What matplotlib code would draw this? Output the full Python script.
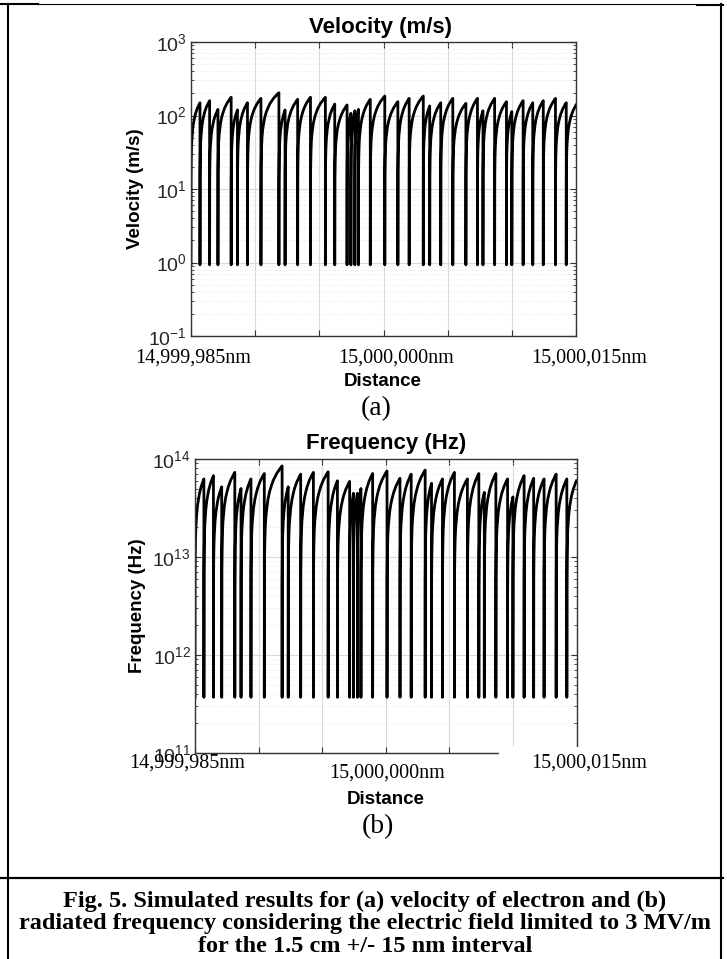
import numpy as np
import matplotlib
matplotlib.use("Agg")
import matplotlib.pyplot as plt
from matplotlib.lines import Line2D
from matplotlib.patches import Rectangle
from matplotlib.ticker import LogLocator, NullFormatter, MultipleLocator

# distance offsets (nm, relative to 15,000,000 nm) where the electron drops back
drop_positions = [-14.3, -13.55, -12.9, -11.87, -11.38, -10.6, -9.55, -8.15, -7.67, -6.69,
                  -5.69, -4.53, -3.8, -2.84, -2.54, -2.23, -1.95, -1.03, 0.1, 1.12,
                  2.0, 3.1, 3.6, 4.46, 5.4, 6.42, 7.32, 7.75, 8.66, 9.58,
                  10.0, 10.88, 11.63, 12.45, 13.4, 14.24]
x_start = -15.0
x_end = 15.0

# peak of each tooth (last value = value at the right edge)
velocity_peaks = [149, 159, 121, 177, 119, 149, 171, 204, 119, 166,
                  177, 177, 143, 139, 107, 116, 121, 166, 184, 154,
                  171, 184, 135, 149, 171, 146, 171, 116, 171, 154,
                  113, 159, 149, 159, 171, 149, 139]
velocity_floor = 0.93

frequency_peaks = [6.26e13, 6.76e13, 5.2e13, 7.3e13, 5.0e13, 6.26e13, 7.1e13, 8.5e13, 5.2e13, 7.0e13,
                   7.3e13, 7.4e13, 6.0e13, 5.9e13, 4.47e13, 4.47e13, 5.0e13, 7.1e13, 7.55e13, 6.35e13,
                   7.0e13, 7.7e13, 5.65e13, 6.26e13, 7.3e13, 6.26e13, 7.1e13, 4.57e13, 7.1e13, 6.26e13,
                   4.1e13, 6.76e13, 6.35e13, 6.26e13, 7.0e13, 6.26e13, 6.0e13]
frequency_floor = 3.7e11

# shape of one tooth (fraction of width -> fraction of peak)
tooth_frac = [0.0, 0.01, 0.03, 0.06, 0.1, 0.2, 0.3, 0.4, 0.5, 0.6, 0.7, 0.8, 0.9, 1.0]
tooth_rel = [0.0, 0.10, 0.17, 0.25, 0.32, 0.45, 0.55, 0.63, 0.71, 0.77, 0.84, 0.89, 0.95, 1.0]

x_tick_text = ["14,999,985nm", "15,000,000nm", "15,000,015nm"]

caption_lines = ["Fig. 5. Simulated results for (a) velocity of electron and (b)",
                 "radiated frequency considering the electric field limited to 3 MV/m",
                 "for the 1.5 cm +/- 15 nm interval"]

W, H = 727, 959
SANS = "Liberation Sans"
SERIF = "Liberation Serif"

plt.rcParams["mathtext.fontset"] = "custom"
plt.rcParams["mathtext.rm"] = SANS
plt.rcParams["font.family"] = SANS


def fx(x):
    return x / W


def fy(y):
    return 1 - y / H


def build_curve(peaks, floor):
    edges = [x_start] + list(drop_positions) + [x_end]
    frac = np.array(tooth_frac)
    rel = np.array(tooth_rel)
    xs, ys = [], []
    for i, peak in enumerate(peaks):
        a, b = edges[i], edges[i + 1]
        xs.extend(a + frac * (b - a))
        ys.extend(np.maximum(peak * rel, floor))
        if i < len(drop_positions):
            xs.append(b)
            ys.append(floor)
    return np.array(xs), np.array(ys)


def style_axes(ax, ylim):
    ax.set_yscale("log")
    ax.set_xlim(x_start, x_end)
    ax.set_ylim(*ylim)
    ax.xaxis.set_major_locator(MultipleLocator(5))
    ax.xaxis.set_major_formatter(NullFormatter())
    ax.yaxis.set_major_locator(LogLocator(base=10, numticks=10))
    ax.yaxis.set_minor_locator(LogLocator(base=10, subs=np.arange(2, 10), numticks=20))
    ax.yaxis.set_minor_formatter(NullFormatter())
    ax.tick_params(which="both", direction="in", top=True, right=True, color="#333333")
    ax.tick_params(which="major", length=4, width=0.8, labelsize=14,
                   labelcolor="#262626", pad=3)
    ax.tick_params(which="minor", length=2, width=0.6)
    ax.grid(True, which="major", color="#dadada", lw=0.8)
    ax.grid(True, which="minor", axis="y", color="#e4e4e4", lw=0.6, ls=":")
    ax.set_axisbelow(True)
    for s in ax.spines.values():
        s.set_color("#333333")
        s.set_linewidth(1.0)


def tick_texts(centers):
    for lab, (cx, cy) in zip(x_tick_text, centers):
        fig.text(fx(cx), fy(cy), lab, ha="center", va="center",
                 fontfamily=SERIF, fontsize=14.5, zorder=10)


fig = plt.figure(figsize=(W / 100, H / 100), dpi=100)

# (a) velocity
ax1 = fig.add_axes([fx(191), fy(336), fx(576) - fx(191), fy(42) - fy(336)])
vx, vy = build_curve(velocity_peaks, velocity_floor)
ax1.plot(vx, vy, color="black", lw=2.0)
style_axes(ax1, (1e-1, 1e3))
tick_texts([(193, 358), (396, 358), (589, 358)])

# (b) frequency
ax2 = fig.add_axes([fx(195), fy(753), fx(576.5) - fx(195), fy(459) - fy(753)])
qx, qy = build_curve(frequency_peaks, frequency_floor)
ax2.plot(qx, qy, color="black", lw=2.0)
style_axes(ax2, (1e11, 1e14))
tick_texts([(187, 763), (387.5, 773), (589.5, 763)])

# white patch hiding the lower-right corner of plot (b)
fig.add_artist(Rectangle((fx(498.5), fy(758)), fx(592) - fx(498.5), fy(747) - fy(758),
                         transform=fig.transFigure, facecolor="white",
                         edgecolor="none", zorder=5))

# titles and labels
fig.text(fx(381), fy(28), "Velocity (m/s)", ha="center", va="center",
         fontsize=16, fontweight="bold")
fig.text(fx(135), fy(189), "Velocity (m/s)", ha="center", va="center",
         fontsize=13.5, fontweight="bold", rotation=90)
fig.text(fx(383), fy(381.5), "Distance", ha="center", va="center",
         fontsize=13.5, fontweight="bold")
fig.text(fx(376), fy(409), "(a)", ha="center", va="center",
         fontsize=20, fontfamily=SERIF)

fig.text(fx(386), fy(443), "Frequency (Hz)", ha="center", va="center",
         fontsize=16, fontweight="bold")
fig.text(fx(137), fy(605.5), "Frequency (Hz)", ha="center", va="center",
         fontsize=13.5, fontweight="bold", rotation=90)
fig.text(fx(386), fy(799), "Distance", ha="center", va="center",
         fontsize=13.5, fontweight="bold")
fig.text(fx(378), fy(827), "(b)", ha="center", va="center",
         fontsize=20, fontfamily=SERIF)

# caption
for i, line in enumerate(caption_lines):
    fig.text(fx(365), fy(901 + 23 * i), line, ha="center", va="center",
             fontsize=17.5, fontweight="bold", fontfamily=SERIF)


# table borders
def hline(x0, x1, y, lw):
    fig.add_artist(Line2D([fx(x0), fx(x1)], [fy(y), fy(y)], transform=fig.transFigure,
                          color="black", lw=lw))


def vline(x, y0, y1, lw):
    fig.add_artist(Line2D([fx(x), fx(x)], [fy(y0), fy(y1)], transform=fig.transFigure,
                          color="black", lw=lw))


hline(0, 38, 4.3, 1.5)
hline(38, 697, 3.7, 0.8)
hline(697, 722.5, 4.5, 1.5)
vline(7.5, 3.5, 959, 1.5)
vline(721.3, 3.7, 959, 1.5)
hline(0, 722.5, 877.7, 1.6)

fig.savefig("out.png", dpi=100)
